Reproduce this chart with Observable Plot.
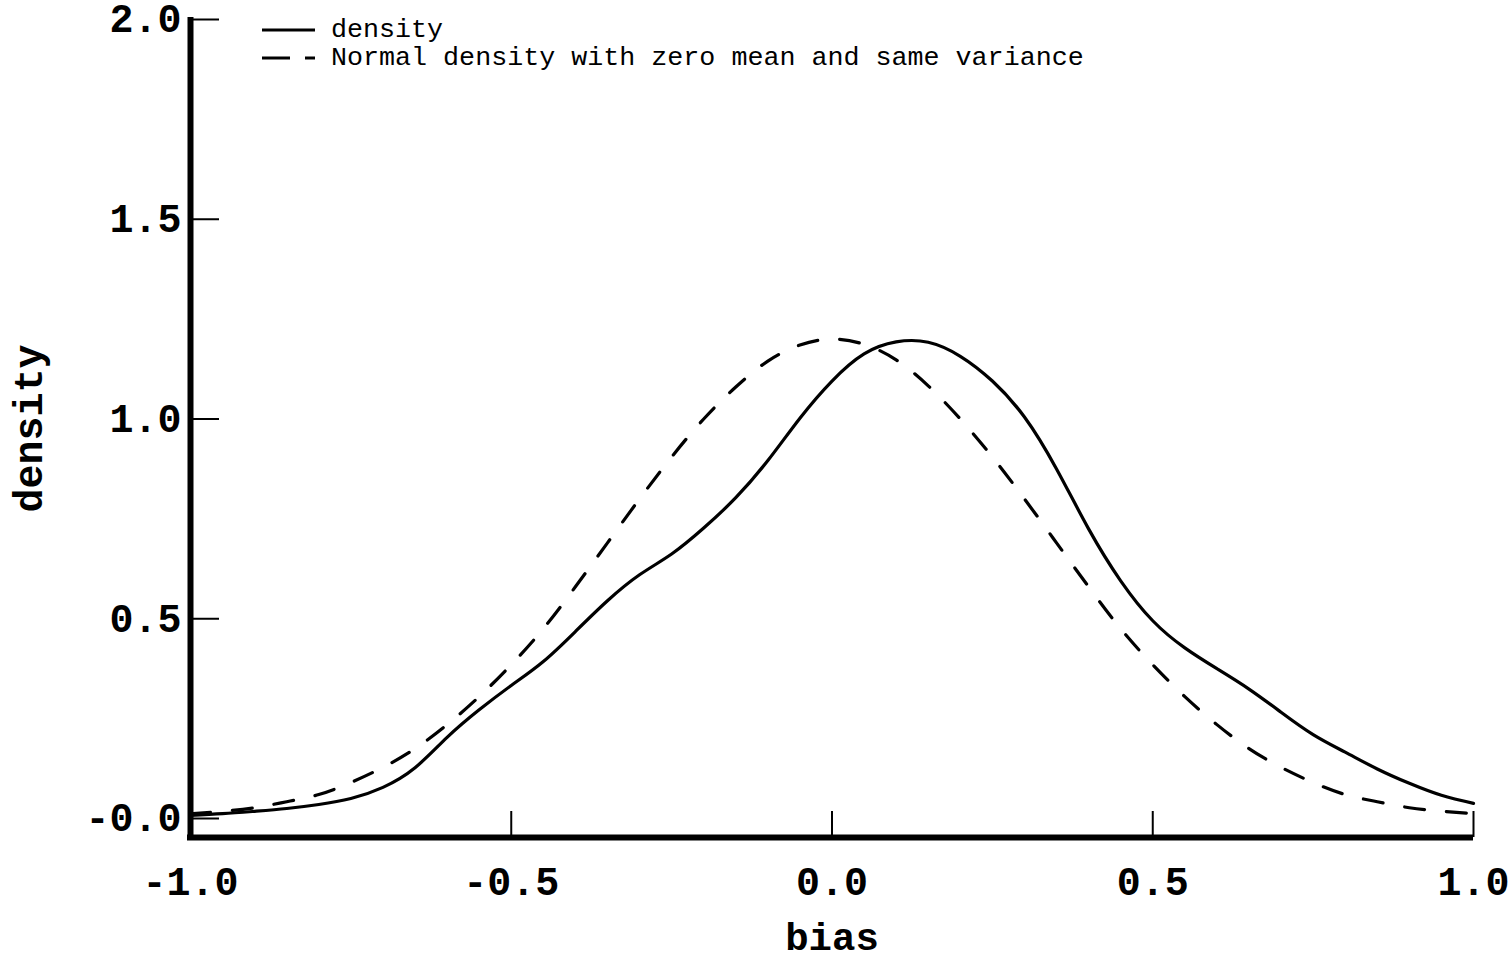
<!DOCTYPE html>
<html><head><meta charset="utf-8">
<script src="https://cdn.jsdelivr.net/npm/d3@7"></script>
<script src="https://cdn.jsdelivr.net/npm/@observablehq/plot@0.6"></script>
<style>
body{margin:0;background:#fff;}
#wrap{position:relative;width:1511px;height:964px;}
#legend{position:absolute;left:0;top:0;pointer-events:none;}
</style></head><body><div id="wrap"></div>
<script>
// ---- data ----
const bias = [-1.00,-0.95,-0.90,-0.85,-0.80,-0.75,-0.70,-0.65,-0.60,-0.55,-0.50,-0.45,-0.40,-0.35,-0.30,-0.25,-0.20,-0.15,-0.10,-0.05,
  0.00,0.05,0.10,0.15,0.20,0.25,0.30,0.35,0.40,0.45,0.50,0.55,0.60,0.65,0.70,0.75,0.80,0.85,0.90,0.95,1.00];
const densityValues = [0.008,0.012,0.018,0.025,0.035,0.050,0.078,0.127,0.203,0.272,0.333,0.393,0.468,0.545,0.610,0.662,0.727,0.803,0.896,1.002,
  1.095,1.163,1.193,1.192,1.157,1.095,1.005,0.875,0.725,0.595,0.495,0.427,0.375,0.324,0.266,0.210,0.166,0.124,0.088,0.058,0.038];
const normalValues = [0.012,0.018,0.027,0.042,0.060,0.090,0.128,0.175,0.235,0.305,0.385,0.475,0.580,0.690,0.800,0.905,1.000,1.080,1.145,1.185,
  1.200,1.187,1.148,1.083,1.000,0.905,0.800,0.690,0.580,0.475,0.385,0.305,0.235,0.175,0.128,0.090,0.060,0.042,0.027,0.018,0.012];
const xTicks = [-1, -0.5, 0, 0.5, 1];
const xTickLabels = ["-1.0", "-0.5", "0.0", "0.5", "1.0"];
const yTicks = [0, 0.5, 1, 1.5, 2];
const yTickLabels = ["-0.0", "0.5", "1.0", "1.5", "2.0"];
const xLabel = "bias";
const yLabel = "density";
const legendLabels = ["density", "Normal density with zero mean and same variance"];

const FONT = "'Liberation Mono','Courier New',monospace";
const densityRows = bias.map((x, i) => ({x, y: densityValues[i]}));
const normalRows = bias.map((x, i) => ({x, y: normalValues[i]}));

const W = 1511, H = 964, ML = 190, MR = 38, MT = 19, MB = 146;
const FW = W - ML - MR, FH = H - MT - MB;

const plot = Plot.plot({
  width: W, height: H,
  marginLeft: ML, marginRight: MR, marginTop: MT, marginBottom: MB,
  x: {domain: [-1, 1], axis: null},
  y: {domain: [0, 2], axis: null},
  style: {fontFamily: FONT, background: "white", color: "black", overflow: "visible"},
  marks: [
    Plot.line(normalRows, {x: "x", y: "y", curve: "natural", stroke: "black", strokeWidth: 3.2, strokeDasharray: "20,22"}),
    Plot.line(densityRows, {x: "x", y: "y", curve: "natural", stroke: "black", strokeWidth: 3.2}),
    Plot.ruleY([0], {x1: -1, x2: 1, dy: 19, stroke: "black", strokeWidth: 6, insetLeft: -3}),
    Plot.ruleX([-1], {y1: 2, y2: 0, stroke: "black", strokeWidth: 6, insetTop: -2, insetBottom: -22}),
    Plot.tickY(yTicks, {y: d => d, stroke: "black", strokeWidth: 2, insetRight: FW - 29}),
    Plot.tickX(xTicks, {x: d => d, stroke: "black", strokeWidth: 2, insetTop: FH - 26, dy: 19}),
    Plot.text(yTicks, {y: d => d, text: (d, i) => yTickLabels[i], frameAnchor: "left", textAnchor: "end", dx: -9,
      fontSize: 40, fontWeight: "bold", fill: "black"}),
    Plot.text(xTicks, {x: d => d, text: (d, i) => xTickLabels[i], frameAnchor: "bottom", lineAnchor: "middle", dy: 64,
      fontSize: 40, fontWeight: "bold", fill: "black"}),
    Plot.text([xLabel], {text: d => d, frameAnchor: "bottom", lineAnchor: "middle", dy: 119, fontSize: 39, fontWeight: "bold", fill: "black"}),
    Plot.text([yLabel], {text: d => d, frameAnchor: "left", textAnchor: "middle", lineAnchor: "middle", dx: -161, dy: 9.5, rotate: -90,
      fontSize: 40, fontWeight: "bold", fill: "black"})
  ]
});
const wrap = document.getElementById("wrap");
wrap.appendChild(plot);

// legend overlay
const lg = d3.select(wrap).append("svg").attr("id", "legend").attr("width", W).attr("height", 90);
const rowsY = [30, 58];
lg.append("line").attr("x1", 262).attr("x2", 315).attr("y1", rowsY[0]).attr("y2", rowsY[0])
  .attr("stroke", "black").attr("stroke-width", 3.2);
lg.append("line").attr("x1", 262).attr("x2", 315).attr("y1", rowsY[1]).attr("y2", rowsY[1])
  .attr("stroke", "black").attr("stroke-width", 3.2).attr("stroke-dasharray", "28,15");
legendLabels.forEach((t, i) => {
  lg.append("text").attr("x", 331).attr("y", rowsY[i] + 7).attr("font-family", FONT)
    .attr("font-size", 26.7).attr("fill", "black").text(t);
});
</script></body></html>
